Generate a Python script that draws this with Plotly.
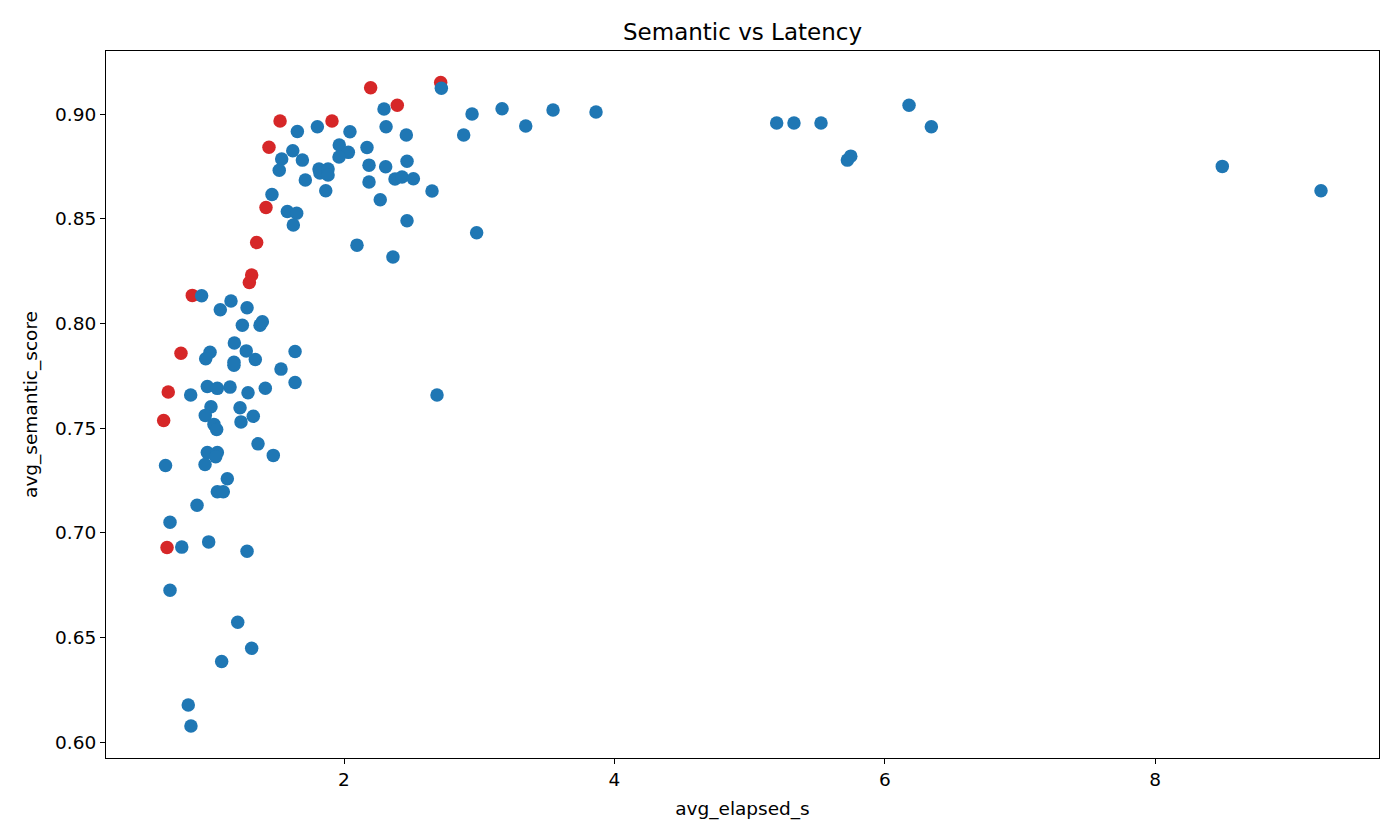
import plotly.graph_objects as go

# Highlighted (red) points
red_elapsed = [2.715, 2.197, 2.394, 1.911, 1.527, 1.445, 1.423, 1.354, 1.317, 1.300,
               0.878, 0.794, 0.700, 0.666, 0.691]
red_semantic = [0.9150, 0.9126, 0.9042, 0.8967, 0.8967, 0.8841, 0.8554, 0.8387, 0.8231, 0.8196,
                0.8134, 0.7858, 0.7673, 0.7537, 0.6930]

# Other (blue) points
blue_elapsed = [
    0.947, 1.164, 1.085, 1.283, 1.248, 1.379, 1.396, 1.189, 1.009, 0.977,
    1.277, 1.186, 1.186, 1.344, 1.638, 1.534, 1.638, 0.866, 0.989, 1.063,
    1.157, 1.290, 1.418, 1.016, 0.974, 1.231, 1.329, 1.238, 1.038, 1.058,
    1.364, 1.477, 0.989, 1.063, 1.051, 0.680, 0.972, 1.137, 1.063, 1.107,
    0.913, 0.713, 0.800, 0.999, 1.283, 0.713, 1.214, 1.317, 1.095, 0.848,
    0.868,
    2.720, 2.296, 1.803, 1.655, 2.044, 2.311, 2.461, 1.965, 1.621, 2.032,
    1.963, 2.170, 1.539, 1.521, 1.692, 2.466, 2.185, 2.308, 1.815, 1.822,
    1.882, 1.882, 1.714, 2.185, 2.377, 2.429, 2.513, 1.865, 2.651, 1.467,
    2.268, 1.581, 1.650, 1.625, 2.466, 2.096, 2.362, 2.947, 3.169, 3.344,
    2.885, 2.981, 3.546, 3.864, 2.688,
    5.200, 5.328, 5.528, 6.179, 6.344, 5.723, 5.748, 8.496, 9.226,
]
blue_semantic = [
    0.8132, 0.8107, 0.8065, 0.8075, 0.7991, 0.7992, 0.8008, 0.7907, 0.7863, 0.7831,
    0.7869, 0.7815, 0.7801, 0.7828, 0.7866, 0.7782, 0.7718, 0.7658, 0.7699, 0.7690,
    0.7696, 0.7669, 0.7691, 0.7602, 0.7561, 0.7597, 0.7557, 0.7530, 0.7518, 0.7494,
    0.7425, 0.7370, 0.7384, 0.7384, 0.7363, 0.7322, 0.7326, 0.7258, 0.7196, 0.7196,
    0.7132, 0.7051, 0.6932, 0.6957, 0.6912, 0.6726, 0.6573, 0.6449, 0.6386, 0.6178,
    0.6078,
    0.9123, 0.9024, 0.8939, 0.8917, 0.8915, 0.8939, 0.8900, 0.8852, 0.8825, 0.8817,
    0.8795, 0.8840, 0.8785, 0.8732, 0.8780, 0.8775, 0.8756, 0.8748, 0.8737, 0.8718,
    0.8737, 0.8709, 0.8685, 0.8675, 0.8690, 0.8699, 0.8691, 0.8634, 0.8632, 0.8616,
    0.8591, 0.8535, 0.8526, 0.8470, 0.8490, 0.8374, 0.8317, 0.9000, 0.9025, 0.8943,
    0.8900, 0.8433, 0.9019, 0.9010, 0.7658,
    0.8957, 0.8957, 0.8957, 0.9042, 0.8939, 0.8780, 0.8799, 0.8750, 0.8634,
]

x_ticks = [2, 4, 6, 8]
y_ticks = [0.60, 0.65, 0.70, 0.75, 0.80, 0.85, 0.90]

FONT = "DejaVu Sans"

fig = go.Figure()
fig.add_trace(go.Scatter(
    x=red_elapsed, y=red_semantic, mode="markers",
    marker=dict(color="#d62728", size=13.5, line=dict(width=0)),
    showlegend=False, hoverinfo="skip"))
fig.add_trace(go.Scatter(
    x=blue_elapsed, y=blue_semantic, mode="markers",
    marker=dict(color="#1f77b4", size=13.5, line=dict(width=0)),
    showlegend=False, hoverinfo="skip"))

axis_common = dict(
    showgrid=False, zeroline=False, showline=True, linecolor="black", linewidth=1.1,
    mirror=True, ticks="outside", ticklen=5, tickwidth=1.1, tickcolor="black",
    tickfont=dict(family=FONT, size=18.5, color="black"),
)

fig.update_layout(
    width=1400, height=840,
    margin=dict(l=106, r=21, t=51, b=82, autoexpand=False),
    paper_bgcolor="white", plot_bgcolor="white",
    title=dict(text="Semantic vs Latency", xref="paper", x=0.5, xanchor="center",
               yref="container", y=1 - 32 / 840, yanchor="middle",
               font=dict(family=FONT, size=23, color="black")),
    xaxis=dict(range=[0.2396, 9.655], tickvals=x_ticks, ticktext=[str(v) for v in x_ticks],
               title=dict(text="avg_elapsed_s", font=dict(family=FONT, size=18.5, color="black"),
                          standoff=12),
               **axis_common),
    yaxis=dict(range=[0.5925, 0.9301], tickvals=y_ticks, ticktext=[f"{v:.2f}" for v in y_ticks],
               title=dict(text="avg_semantic_score", font=dict(family=FONT, size=18.5, color="black"),
                          standoff=12),
               **axis_common),
)

fig.write_html("out.html", config={"displayModeBar": False},
               post_script="document.body.style.margin='0';document.body.style.overflow='hidden';")
